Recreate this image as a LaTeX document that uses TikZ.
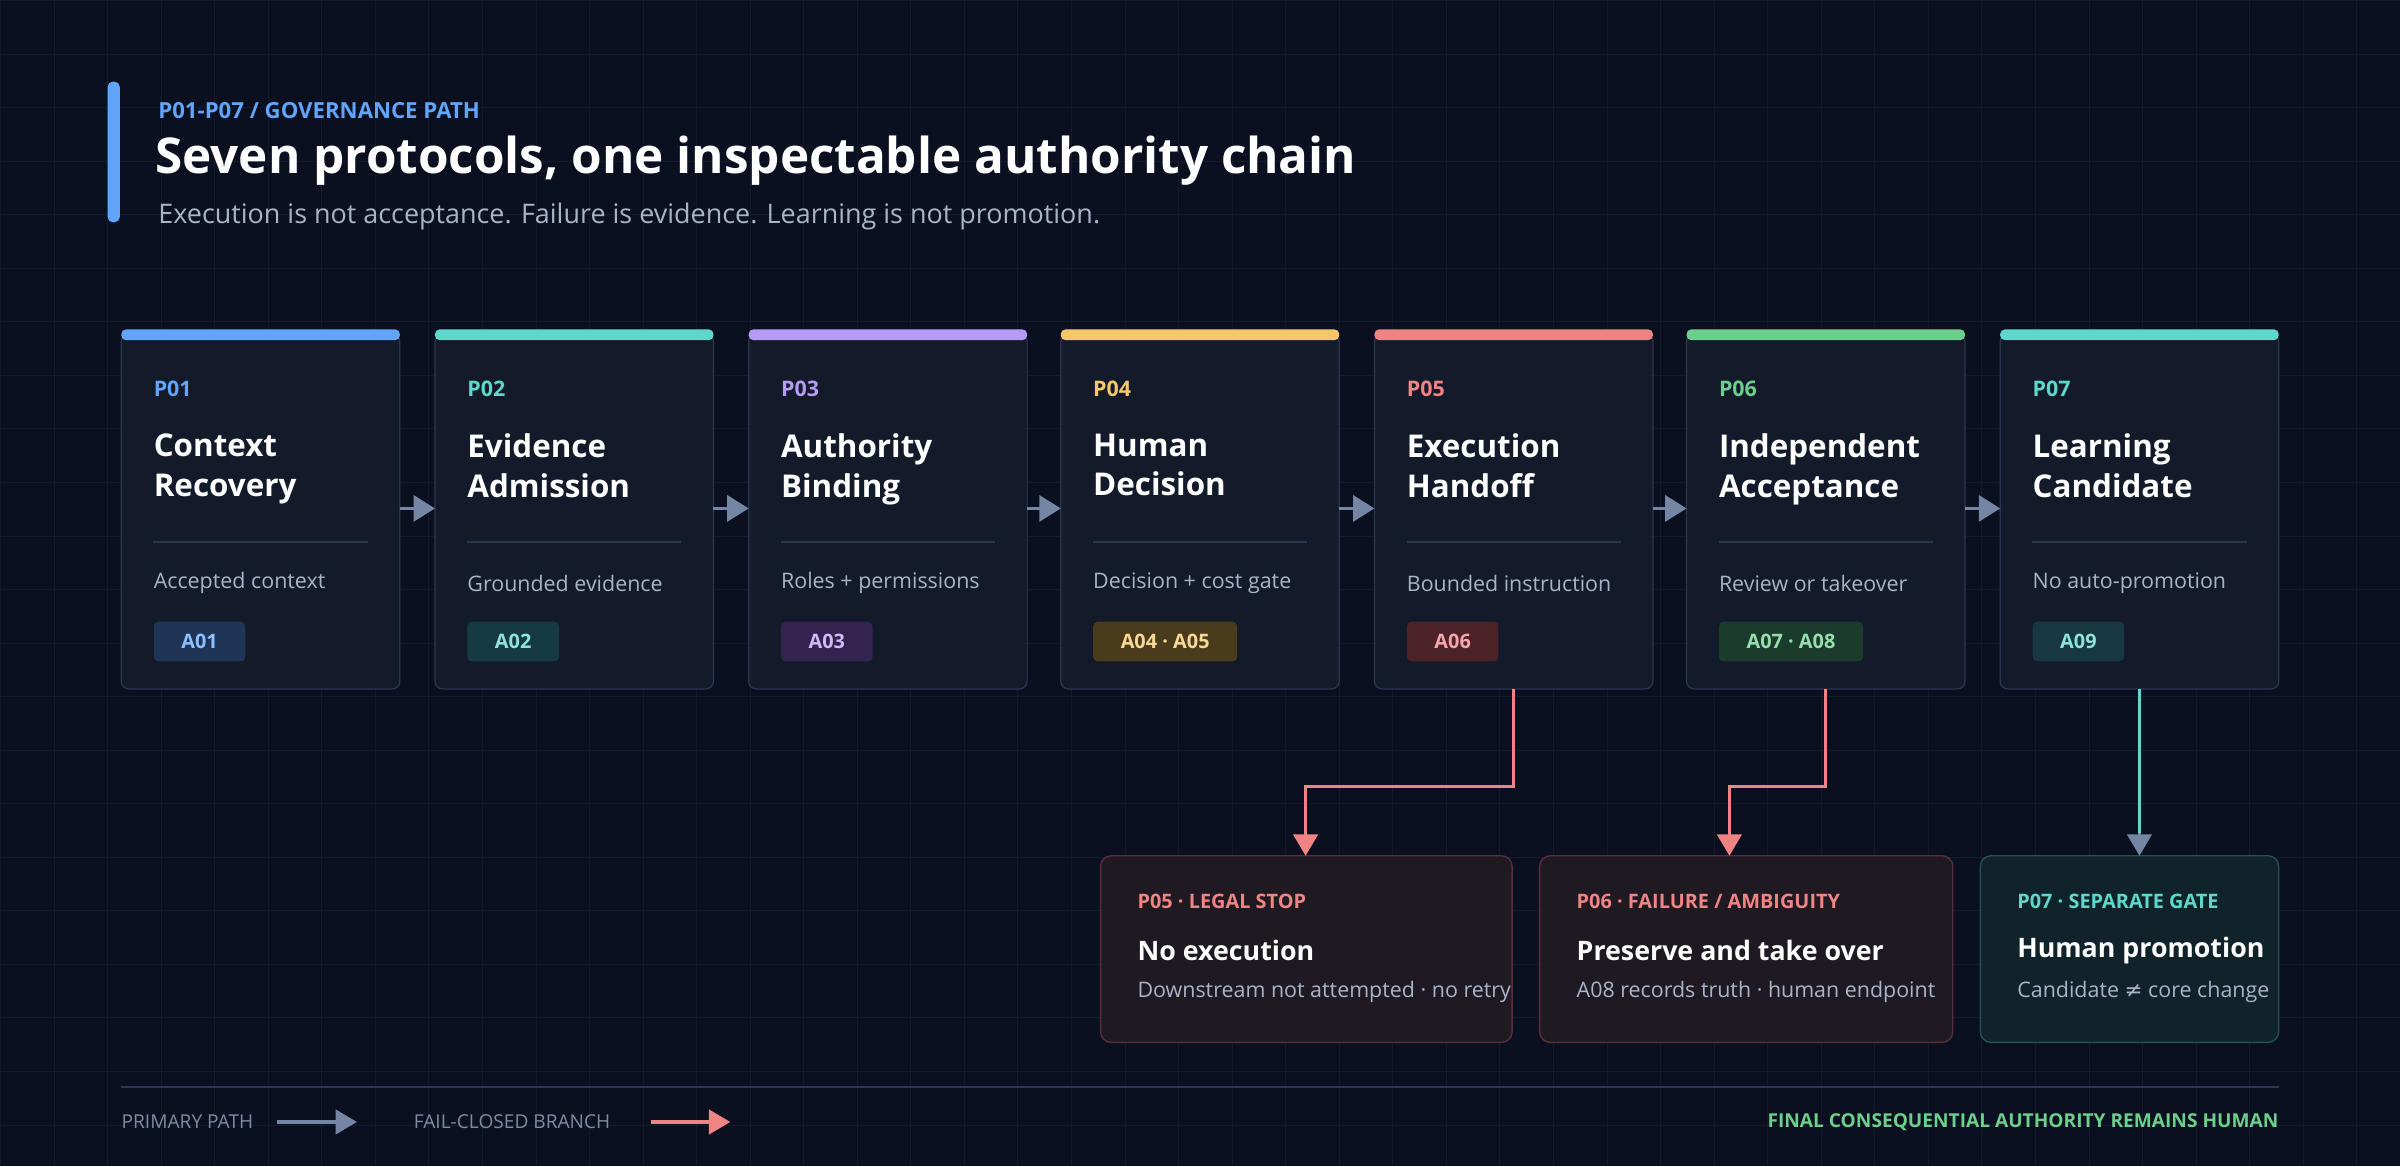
\documentclass[tikz,border=0pt]{standalone}
\usepackage{fontspec}
\setmainfont{Open Sans}[BoldFont={Open Sans Bold}]
\newfontfamily\symf{DejaVu Sans}
\usetikzlibrary{arrows.meta}
\definecolor{bg}{HTML}{0B1020}
\definecolor{gridc}{HTML}{141A2A}
\definecolor{card}{HTML}{131A2A}
\definecolor{cardb}{HTML}{2C3650}
\definecolor{sep}{HTML}{2C3650}
\definecolor{muted}{HTML}{A9B4C8}
\definecolor{dim}{HTML}{7F8BA3}
\definecolor{arrowc}{HTML}{7486A3}
\definecolor{cA}{HTML}{60A5FA}
\definecolor{cB}{HTML}{5ED8CB}
\definecolor{cC}{HTML}{B69CF7}
\definecolor{cD}{HTML}{F5C76A}
\definecolor{cE}{HTML}{F08383}
\definecolor{cF}{HTML}{6CCF8C}
\definecolor{cG}{HTML}{5ED8CB}
\definecolor{bA}{HTML}{1E3558}
\definecolor{bB}{HTML}{163A44}
\definecolor{bC}{HTML}{33244F}
\definecolor{bD}{HTML}{4A3B1C}
\definecolor{bE}{HTML}{4A2228}
\definecolor{bF}{HTML}{1B3B2C}
\definecolor{bG}{HTML}{173742}
\definecolor{redbox}{HTML}{1F1922}
\definecolor{redbd}{HTML}{5A2E3A}
\definecolor{tealbox}{HTML}{11232A}
\definecolor{tealbd}{HTML}{24524F}
\begin{document}
\begin{tikzpicture}[x=1pt,y=-1pt,
  lbl/.style={anchor=west,inner sep=0,font=\fontsize{14}{16}\selectfont\bfseries},
  ttl/.style={anchor=north west,inner sep=0,align=left,text=white,font=\fontsize{20.5}{26}\selectfont\bfseries},
  sub/.style={anchor=west,inner sep=0,text=muted,font=\fontsize{14}{16}\selectfont},
  badge/.style={anchor=west,rounded corners=3pt,minimum height=26pt,inner xsep=18pt,inner ysep=0,font=\fontsize{13}{15}\selectfont\bfseries},
  flow/.style={-{Triangle[length=14pt,width=17pt]},arrowc,line width=2pt},
  fail/.style={-{Triangle[length=14pt,width=16pt]},cE,line width=2pt},
]
\fill[bg] (0,0) rectangle (1568,762);
\foreach \i in {0,35,...,1568} \draw[gridc,line width=0.6pt] (\i,0) -- (\i,762);
\foreach \j in {0,35,...,762} \draw[gridc,line width=0.6pt] (0,\j) -- (1568,\j);
\useasboundingbox (0,0) rectangle (1568,762);

% header
\fill[cA,rounded corners=3.5pt] (70,53) rectangle (78,145);
\node[lbl,text=cA,font=\fontsize{14.5}{16}\selectfont\bfseries] (kick) at (103,72) {P01-P07 / GOVERNANCE PATH};
\node[anchor=west,inner sep=0,text=white,font=\fontsize{32.3}{36}\selectfont\bfseries] (title) at (101,105) {Seven protocols, one inspectable authority chain};
\node[anchor=west,inner sep=0,text=muted,font=\fontsize{17.6}{20}\selectfont] (subt) at (103,141) {Execution is not acceptance. Failure is evidence. Learning is not promotion.};

% cards
\foreach \k/\x/\c/\b/\code/\name/\desc/\badge in {
 1/79/cA/bA/P01/{Context\\Recovery}/Accepted context/A01,
 2/284/cB/bB/P02/{Evidence\\Admission}/Grounded evidence/A02,
 3/489/cC/bC/P03/{Authority\\Binding}/Roles + permissions/A03,
 4/693/cD/bD/P04/{Human\\Decision}/Decision + cost gate/A04 · A05,
 5/898/cE/bE/P05/{Execution\\Handoff}/Bounded instruction/A06,
 6/1102/cF/bF/P06/{Independent\\Acceptance}/Review or takeover/A07 · A08,
 7/1307/cG/bG/P07/{Learning\\Candidate}/No auto-promotion/A09}{
  \draw[cardb,fill=card,rounded corners=5pt,line width=0.8pt] (\x,218) rectangle ++(182,232);
  \fill[\c,rounded corners=3pt] (\x,215) rectangle ++(182,7);
  \coordinate (c\k t) at (\x+91,450);
  \coordinate (c\k l) at (\x,332);
  \coordinate (c\k r) at (\x+182,332);
  \node[lbl,text=\c] (code\k) at (\x+21,254) {\code};
  \node[ttl] (name\k) at (\x+21,283) {\name};
  \draw[sep,line width=0.8pt] (\x+21,354) -- (\x+161,354);
  \node[sub] (desc\k) at (\x+21,381) {\desc};
  \node[badge,fill=\b,text=\c!70!white] (badge\k) at (\x+21,419) {\badge};
}
\foreach \a/\b in {1/2,2/3,3/4,4/5,5/6,6/7}
  \draw[flow] (c\a r) -- (c\b l);

% branch boxes
\draw[redbd,fill=redbox,rounded corners=7pt,line width=0.9pt] (719,559) rectangle (988,681);
\draw[redbd,fill=redbox,rounded corners=7pt,line width=0.9pt] (1006,559) rectangle (1276,681);
\draw[tealbd,fill=tealbox,rounded corners=7pt,line width=0.9pt] (1294,559) rectangle (1489,681);
\coordinate (b1) at (853,559);
\coordinate (b2) at (1130,559);
\coordinate (b3) at (1398,559);
\node[lbl,text=cE,font=\fontsize{13}{15}\selectfont\bfseries] (l1) at (743,589) {P05 · LEGAL STOP};
\node[anchor=west,inner sep=0,text=white,font=\fontsize{17.5}{20}\selectfont\bfseries] (t1) at (743,621) {No execution};
\node[sub] (s1) at (743,648) {Downstream not attempted · no retry};
\node[lbl,text=cE,font=\fontsize{13}{15}\selectfont\bfseries] (l2) at (1030,589) {P06 · FAILURE / AMBIGUITY};
\node[anchor=west,inner sep=0,text=white,font=\fontsize{17.5}{20}\selectfont\bfseries] (t2) at (1030,621) {Preserve and take over};
\node[sub] (s2) at (1030,648) {A08 records truth · human endpoint};
\node[lbl,text=cG,font=\fontsize{13}{15}\selectfont\bfseries] (l3) at (1318,589) {P07 · SEPARATE GATE};
\node[anchor=west,inner sep=0,text=white,font=\fontsize{17.5}{20}\selectfont\bfseries] (t3) at (1318,621) {Human promotion};
\node[sub] (s3) at (1318,648) {Candidate {\symf ≠} core change};

\draw[fail] (c5t) -- (989,514) -| (b1);
\draw[fail] (c6t) -- (1193,514) -| (b2);
\draw[cG,line width=2pt] (c7t) -- (1398,545);
\draw[flow,-{Triangle[length=14pt,width=16pt]}] (1398,544) -- (b3);

% footer
\draw[sep,line width=1pt] (79,710) -- (1489,710);
\node[anchor=west,inner sep=0,text=dim,font=\fontsize{12.5}{14}\selectfont] (pp) at (79,733) {PRIMARY PATH};
\coordinate (pa1) at (181,733); \coordinate (pa2) at (233,733);
\draw[flow,-{Triangle[length=14pt,width=16pt]}] (pa1) -- (pa2);
\node[anchor=west,inner sep=0,text=dim,font=\fontsize{12.5}{14}\selectfont] (fc) at (270,733) {FAIL-CLOSED BRANCH};
\coordinate (fa1) at (425,733); \coordinate (fa2) at (477,733);
\draw[fail] (fa1) -- (fa2);
\node[anchor=east,inner sep=0,text=cF,font=\fontsize{12.5}{14}\selectfont\bfseries] (fin) at (1489,733) {FINAL CONSEQUENTIAL AUTHORITY REMAINS HUMAN};
\end{tikzpicture}
\end{document}
